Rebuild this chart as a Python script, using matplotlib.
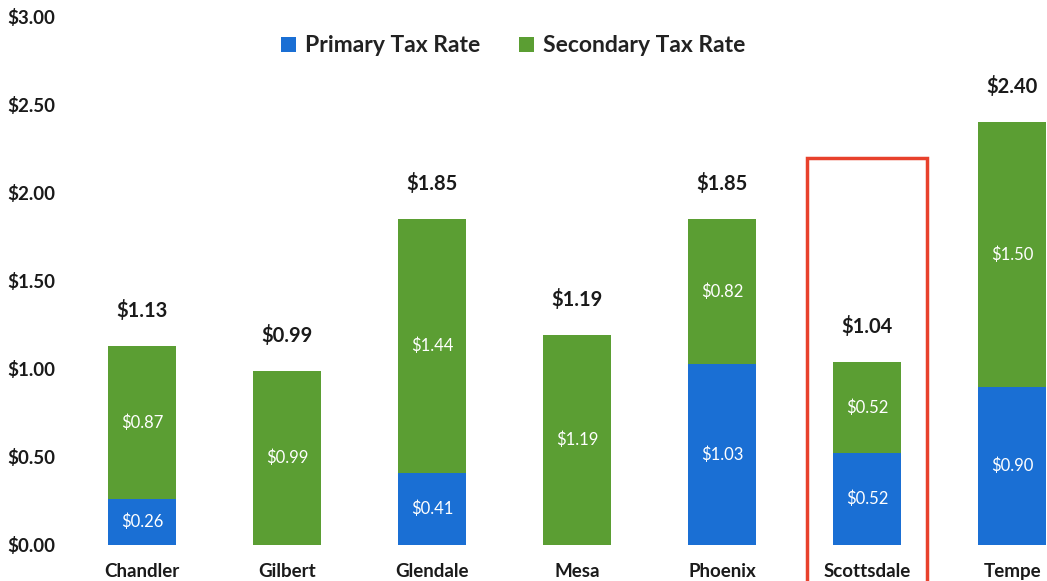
import matplotlib
matplotlib.use("Agg")
import matplotlib.pyplot as plt
import numpy as np
from matplotlib.patches import Rectangle

cities = ['Chandler', 'Gilbert', 'Glendale', 'Mesa', 'Phoenix', 'Scottsdale', 'Tempe']
primary = [0.26, 0.0, 0.41, 0.0, 1.03, 0.52, 0.90]
secondary = [0.87, 0.99, 1.44, 1.19, 0.82, 0.52, 1.50]
totals = [1.13, 0.99, 1.85, 1.19, 1.85, 1.04, 2.40]
yticks = [0.0, 0.5, 1.0, 1.5, 2.0, 2.5, 3.0]
highlight = 'Scottsdale'

BLUE = '#1a6fd4'
GREEN = '#5b9e33'
RED = '#e8412c'
INK = '#1a1a1a'

plt.rcParams['font.family'] = ['Lato', 'DejaVu Sans']

fig = plt.figure(figsize=(10.47, 5.81), dpi=100)
ax = fig.add_axes([0.067, 0.062, 0.933, 0.909])

x = np.arange(len(cities))
BW = 0.47
p = np.array(primary)
s = np.array(secondary)

b1 = ax.bar(x, p, BW, color=BLUE, label='Primary Tax Rate')
b2 = ax.bar(x, s, BW, bottom=p, color=GREEN, label='Secondary Tax Rate')

# in-bar labels, skip empty segments
for bars, vals in [(b1, p), (b2, s)]:
    labels = [f"${v:.2f}" if v > 0 else "" for v in vals]
    ax.bar_label(bars, labels=labels, label_type='center', color='white', fontsize=12)

for xi, t in zip(x, totals):
    ax.annotate(f"${t:.2f}", (xi, t), xytext=(0, 18), textcoords='offset points',
                ha='center', va='bottom', fontsize=14.5, fontweight='bold', color=INK)

# red box round the highlighted city
hi = cities.index(highlight)
ax.add_patch(Rectangle((hi - 0.414, -0.32), 0.828, 2.52, fill=False,
                       edgecolor=RED, linewidth=2.5, clip_on=False, zorder=5))

ax.set_xlim(-0.497, 6.24)
ax.set_ylim(0, 3.0)
ax.set_yticks(yticks)
ax.set_yticklabels([f"${v:.2f}" for v in yticks], fontsize=13.5, fontweight='bold', color=INK)
ax.set_xticks(x)
ax.set_xticklabels(cities, fontsize=13.5, fontweight='bold', color=INK)
ax.tick_params(length=0)
ax.tick_params(axis='y', pad=11)
ax.tick_params(axis='x', pad=13)
for sp in ax.spines.values():
    sp.set_visible(False)

fig.legend(loc='center', bbox_to_anchor=(0.49, 0.921), ncol=2, frameon=False,
           prop={'size': 16.5, 'weight': 'bold'}, handlelength=0.65, handleheight=0.65,
           handletextpad=0.4, columnspacing=1.7, labelcolor='#222222')

fig.savefig('out.png', dpi=100)
